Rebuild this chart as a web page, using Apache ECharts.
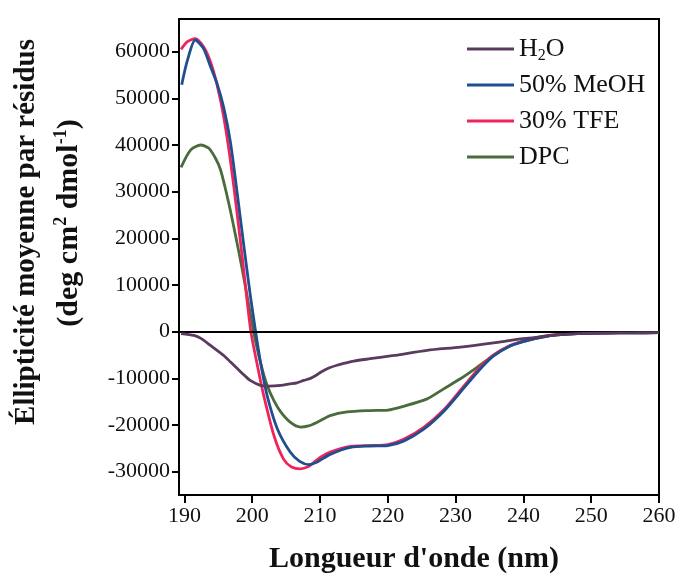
<!DOCTYPE html>
<html>
<head>
<meta charset="utf-8">
<script src="https://cdn.jsdelivr.net/npm/echarts@6/dist/echarts.min.js"></script>
<style>
  html, body { margin: 0; padding: 0; background: #fff; }
  #chart { width: 678px; height: 575px; }
</style>
</head>
<body>
<div id="chart"></div>
<script>
// Circular dichroism spectra: mean residue ellipticity vs wavelength

const seriesNames = ['H2O', '50% MeOH', '30% TFE', 'DPC'];

const xTicks = [190, 200, 210, 220, 230, 240, 250, 260];
const yTicks = [-30000, -20000, -10000, 0, 10000, 20000, 30000, 40000, 50000, 60000];

// H2O
const h2oNm  = [189.5, 191.4, 192.5, 193.8, 195.8, 196.8, 197.8, 198.8, 199.7, 201.2, 202.5, 204.2, 205.5, 206.6, 207.6, 208.6, 209.5, 210.1, 211.3, 212.5, 213.5, 215, 217.4, 220.9, 225.8, 230.7, 235.6, 239.1, 241.5, 244, 248, 252, 256, 260];
const h2oVal = [-400, -800, -1500, -2900, -5100, -6500, -7900, -9300, -10450, -11500, -11650, -11500, -11200, -10950, -10450, -10000, -9300, -8700, -7800, -7200, -6800, -6300, -5800, -5100, -4000, -3300, -2400, -1650, -1300, -800, -400, -300, -250, -200];

// 50% MeOH
const meohNm  = [189.6, 190.4, 191.6, 192.8, 193.8, 194.8, 195.8, 196.8, 197.8, 198.8, 199.7, 200.5, 201.3, 202.2, 203.7, 205.6, 207, 208.4, 209.5, 211.5, 214.5, 217.4, 220, 222.4, 225.3, 228.3, 231.2, 233.5, 235.6, 238.1, 240.5, 243, 245, 248, 252, 256, 260];
const meohVal = [52900, 57900, 62500, 60700, 57000, 53200, 48000, 40500, 29500, 18000, 8000, 0, -7200, -13700, -20800, -25800, -27800, -28500, -28000, -26300, -24800, -24500, -24400, -23400, -20900, -17000, -12100, -8200, -5200, -3000, -1900, -1100, -700, -400, -300, -250, -200];

// 30% TFE
const tfeNm  = [189.5, 190.4, 191.6, 192.8, 193.8, 194.8, 195.8, 196.8, 197.8, 198.8, 199.8, 200.8, 201.7, 203.2, 204.6, 205.8, 207.1, 208.3, 209.1, 210.2, 211.5, 214.5, 217.4, 220, 222.4, 225.3, 228.3, 231.2, 233.5, 235.6, 238.1, 240.5, 243, 245, 248, 252, 256, 260];
const tfeVal = [60500, 62100, 62800, 61100, 58000, 53000, 46000, 36500, 25000, 12500, 0, -7500, -13700, -22250, -27250, -29000, -29400, -28900, -28000, -26800, -25800, -24600, -24400, -24200, -23000, -20500, -16700, -11700, -7800, -5000, -2900, -1800, -1000, -600, -350, -250, -200, -150];

// DPC
const dpcNm  = [189.5, 190.9, 192.4, 193.6, 194.6, 195.3, 196, 196.8, 197.5, 198.5, 199.3, 200.2, 201.2, 202.2, 203.2, 204.2, 205.6, 207.1, 208.3, 209.6, 211.5, 214, 217.4, 220, 222.3, 225.8, 228.3, 230.7, 233.2, 235.6, 238.1, 240.5, 243, 245, 248, 252, 256, 260];
const dpcVal = [35200, 38900, 40000, 39300, 37100, 34800, 30900, 25800, 20900, 13600, 7200, 0, -6500, -11500, -14800, -17200, -19400, -20450, -20200, -19400, -18000, -17200, -16900, -16800, -16000, -14400, -12200, -10100, -7600, -5100, -3000, -1900, -1100, -700, -400, -300, -250, -200];

const colors = ['#5a3a5e', '#1f4f8e', '#f0245c', '#4a6b3c'];

const pairs = (xs, ys) => xs.map((x, i) => [x, ys[i]]);
const dataSets = [pairs(h2oNm, h2oVal), pairs(meohNm, meohVal), pairs(tfeNm, tfeVal), pairs(dpcNm, dpcVal)];
const zOrder = [5, 4, 3, 2];

const serif = '"Liberation Serif", "DejaVu Serif", serif';

const chart = echarts.init(document.getElementById('chart'), null, { renderer: 'canvas' });

const series = seriesNames.map((name, i) => ({
  name: name,
  type: 'line',
  data: dataSets[i],
  smooth: 0.25,
  showSymbol: false,
  symbol: 'none',
  z: zOrder[i],
  lineStyle: { color: colors[i], width: 2.8 },
  itemStyle: { color: colors[i] }
}));

// zero reference line
series[0].markLine = {
  silent: true,
  symbol: 'none',
  label: { show: false },
  lineStyle: { color: '#000', width: 2, type: 'solid' },
  data: [{ yAxis: 0 }]
};

chart.setOption({
  animation: false,
  backgroundColor: '#fff',
  grid: {
    left: 179, right: 19, top: 19, bottom: 80,
    show: true, borderColor: '#000', borderWidth: 2,
    outerBoundsMode: 'none'
  },
  legend: {
    orient: 'vertical',
    left: 462, top: 29,
    icon: 'rect',
    itemWidth: 47, itemHeight: 3,
    itemGap: 6,
    data: seriesNames,
    formatter: name => name === 'H2O' ? 'H{sub|2}O' : name,
    textStyle: {
      fontFamily: serif, fontSize: 26, color: '#111', lineHeight: 30,
      rich: { sub: { fontFamily: serif, fontSize: 16, lineHeight: 14, verticalAlign: 'bottom', color: '#111' } }
    }
  },
  xAxis: {
    type: 'value',
    min: 189.2, max: 260,
    name: "Longueur d'onde (nm)",
    nameLocation: 'middle',
    nameGap: 49,
    nameTextStyle: { fontFamily: serif, fontSize: 30, fontWeight: 'bold', color: '#111', padding: [0, 10, 0, 0] },
    axisLine: { show: true, onZero: false, lineStyle: { color: '#000', width: 2 } },
    axisTick: { show: true, inside: false, length: 8, customValues: xTicks, lineStyle: { color: '#000', width: 2 } },
    axisLabel: { customValues: xTicks, fontFamily: serif, fontSize: 22, color: '#111', margin: 10 },
    splitLine: { show: false }
  },
  yAxis: {
    type: 'value',
    min: -35000, max: 67000,
    axisLine: { show: true, lineStyle: { color: '#000', width: 2 } },
    axisTick: { show: true, inside: false, length: 7, customValues: yTicks, lineStyle: { color: '#000', width: 2 } },
    axisLabel: {
      customValues: yTicks, formatter: v => String(v),
      fontFamily: serif, fontSize: 22, color: '#111', margin: 9
    },
    splitLine: { show: false }
  },
  graphic: [
    {
      type: 'text', x: 27, y: 232, rotation: Math.PI / 2,
      style: {
        text: 'Éllipticité moyenne par résidus',
        fontFamily: serif, fontSize: 29, fontWeight: 'bold', fill: '#111',
        textAlign: 'center', textVerticalAlign: 'middle'
      }
    },
    {
      type: 'text', x: 69, y: 223, rotation: Math.PI / 2,
      style: {
        text: '(deg cm{sup|2} dmol{sup|-1})',
        fontFamily: serif, fontSize: 30, fontWeight: 'bold', fill: '#111',
        textAlign: 'center', textVerticalAlign: 'middle',
        rich: { sup: { fontFamily: serif, fontSize: 18, fontWeight: 'bold', fill: '#111', verticalAlign: 'top', lineHeight: 34 } }
      }
    }
  ],
  series: series
});
</script>
</body>
</html>
